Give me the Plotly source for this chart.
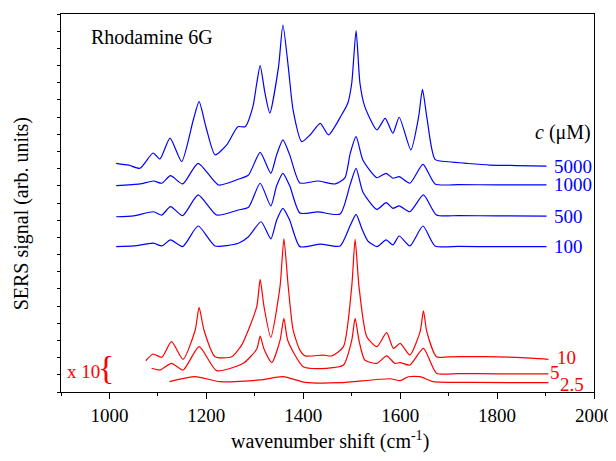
import plotly.graph_objects as go

# ---- data (wavenumber in cm^-1, signal in arbitrary offset units) ----
wn_5000 = [1014, 1040, 1063, 1090, 1104, 1125, 1149, 1173, 1185, 1199, 1218, 1242, 1265, 1280, 1296, 1304, 1311, 1321, 1331,
           1349, 1358, 1369, 1379, 1397, 1414, 1435, 1452, 1479, 1492, 1500, 1509, 1517, 1527, 1552, 1569, 1585, 1598,
           1622, 1638, 1646, 1655, 1672, 1700, 1740, 1785, 1840, 1902]
sig_5000 = [13.31, 13.20, 13.02, 13.91, 13.56, 14.78, 13.41, 15.83, 16.90, 15.44, 13.80, 14.38, 15.44, 15.44, 16.61, 17.97, 18.99, 17.39, 16.24,
            18.94, 21.36, 18.94, 16.41, 14.57, 14.96, 15.64, 14.96, 16.12, 16.82, 17.97, 21.03, 17.97, 16.61, 15.25, 15.93, 15.06, 15.99,
            14.09, 16.00, 17.62, 16.00, 13.54, 13.40, 13.30, 13.21, 13.18, 13.15]

wn_1000 = [1014, 1063, 1091, 1108, 1126, 1151, 1183, 1225, 1266, 1287, 1311, 1333, 1345, 1358, 1372, 1393, 1430, 1466, 1486,
           1497, 1509, 1523, 1552, 1571, 1585, 1598, 1620, 1647, 1672, 1720, 1800, 1902]
sig_1000 = [12.01, 12.11, 12.28, 12.15, 12.59, 12.11, 13.31, 12.05, 12.38, 12.63, 13.95, 12.73, 13.80, 14.67, 13.80, 12.17, 12.28, 12.11, 12.46,
            13.90, 14.86, 13.50, 12.47, 12.73, 12.44, 12.53, 12.15, 13.25, 12.11, 12.07, 12.06, 12.05]

wn_500 = [1014, 1050, 1091, 1108, 1126, 1151, 1183, 1221, 1266, 1287, 1311, 1333, 1345, 1358, 1372, 1393, 1430, 1476,
          1497, 1509, 1523, 1552, 1571, 1585, 1598, 1620, 1648, 1675, 1720, 1800, 1902]
sig_500 = [10.20, 10.25, 10.49, 10.30, 10.79, 10.26, 11.47, 10.30, 10.59, 10.75, 12.15, 10.83, 12.00, 12.73, 12.00, 10.42, 10.48, 10.36,
           12.10, 13.02, 11.64, 10.63, 11.02, 10.69, 10.83, 10.49, 11.47, 10.30, 10.27, 10.25, 10.24]

wn_100 = [1014, 1050, 1091, 1108, 1126, 1151, 1183, 1218, 1266, 1287, 1313, 1333, 1345, 1358, 1372, 1393, 1435, 1476,
          1497, 1509, 1521, 1533, 1552, 1571, 1585, 1598, 1620, 1647, 1672, 1720, 1800, 1902]
sig_100 = [8.46, 8.50, 8.66, 8.50, 8.85, 8.46, 9.66, 8.50, 8.66, 9.04, 9.91, 8.91, 10.00, 10.69, 10.00, 8.46, 8.61, 8.50,
           9.70, 10.34, 9.50, 8.80, 8.46, 8.85, 8.56, 9.08, 8.50, 9.66, 8.50, 8.47, 8.46, 8.46]

wn_10 = [1075, 1090, 1108, 1128, 1152, 1177, 1185, 1195, 1218, 1252, 1273, 1304, 1311, 1319, 1333, 1352, 1360, 1369, 1379, 1393,
         1404, 1441, 1459, 1483, 1500, 1507, 1515, 1531, 1552, 1572, 1586, 1600, 1620, 1641, 1648, 1655, 1675, 1700, 1750, 1800, 1850, 1906]
sig_10 = [1.82, 2.21, 2.02, 2.93, 1.90, 3.61, 4.93, 3.61, 2.05, 2.05, 2.74, 4.97, 6.56, 4.97, 3.18, 6.13, 8.91, 6.13, 3.61, 2.44,
          2.10, 2.15, 2.10, 2.64, 6.13, 8.89, 6.13, 3.22, 2.64, 3.45, 2.54, 2.83, 2.15, 3.50, 4.73, 3.50, 2.05, 2.05, 2.06, 2.05, 2.00, 1.90]

wn_5 = [1087, 1104, 1128, 1152, 1185, 1221, 1276, 1304, 1311, 1319, 1335, 1352, 1360, 1368, 1400, 1448, 1483, 1500, 1507, 1515,
        1527, 1552, 1572, 1589, 1600, 1620, 1648, 1675, 1720, 1800, 1906]
sig_5 = [1.38, 1.28, 1.67, 1.28, 2.64, 1.24, 1.67, 2.50, 3.26, 2.50, 1.71, 3.00, 4.29, 3.00, 1.47, 1.38, 1.57, 3.00, 4.29, 3.00,
         1.86, 1.67, 2.10, 1.67, 1.71, 1.57, 2.54, 1.09, 1.07, 1.06, 1.05]

wn_2p5 = [1124, 1177, 1228, 1311, 1358, 1404, 1476, 1579, 1600, 1617, 1641, 1669, 1750, 1906]
sig_2p5 = [0.60, 0.89, 0.60, 0.70, 0.89, 0.56, 0.54, 0.77, 0.66, 0.89, 0.89, 0.60, 0.56, 0.54]

blue_labels = ["5000", "1000", "500", "100"]
red_labels = ["10", "5", "2.5"]

BLUE = "#0000FF"
RED = "#FF0000"
FONT = "Liberation Serif, Times New Roman, serif"

fig = go.Figure()
series = [
    (wn_5000, sig_5000, BLUE), (wn_1000, sig_1000, BLUE), (wn_500, sig_500, BLUE), (wn_100, sig_100, BLUE),
    (wn_10, sig_10, RED), (wn_5, sig_5, RED), (wn_2p5, sig_2p5, RED),
]
for xs, ys, col in series:
    fig.add_trace(go.Scatter(x=xs, y=ys, mode="lines",
                             line=dict(color=col, width=1.2, shape="spline", smoothing=0.6),
                             showlegend=False, hoverinfo="skip"))

annotations = []
blue_y = [sig_5000[-1], sig_1000[-1], sig_500[-1], sig_100[-1]]
for lab, yv in zip(blue_labels, blue_y):
    annotations.append(dict(x=1914, y=yv, text=lab, showarrow=False, xanchor="left", yanchor="middle",
                            font=dict(family=FONT, size=19, color=BLUE)))
annotations.append(dict(x=1944, y=2.02, text=red_labels[0], showarrow=False, xanchor="center", yanchor="middle",
                        font=dict(family=FONT, size=19, color=RED)))
annotations.append(dict(x=1920, y=1.15, text=red_labels[1], showarrow=False, xanchor="center", yanchor="middle",
                        font=dict(family=FONT, size=19, color=RED)))
annotations.append(dict(x=1954, y=0.45, text=red_labels[2], showarrow=False, xanchor="center", yanchor="middle",
                        font=dict(family=FONT, size=19, color=RED)))
annotations.append(dict(x=1937, y=15.08, text="<i>c</i> (\u03bcM)", showarrow=False, xanchor="center", yanchor="middle",
                        font=dict(family=FONT, size=20, color="black")))
annotations.append(dict(x=958, y=20.68, text="Rhodamine 6G", showarrow=False, xanchor="left", yanchor="middle",
                        font=dict(family=FONT, size=20, color="black")))
annotations.append(dict(x=946, y=1.2, text="x 10", showarrow=False, xanchor="center", yanchor="middle",
                        font=dict(family=FONT, size=19, color=RED)))
annotations.append(dict(x=993, y=1.4, text="{", showarrow=False, xanchor="center", yanchor="middle",
                        font=dict(family=FONT, size=34, color=RED)))
# axis titles
annotations.append(dict(x=0.505, y=-0.127, xref="paper", yref="paper", text="wavenumber shift (cm<sup>-1</sup>)",
                        showarrow=False, xanchor="center", yanchor="middle",
                        font=dict(family=FONT, size=20, color="black")))
annotations.append(dict(x=-0.075, y=0.47, xref="paper", yref="paper", text="SERS signal (arb. units)",
                        showarrow=False, xanchor="center", yanchor="middle", textangle=-90,
                        font=dict(family=FONT, size=20, color="black")))

# The page body has an 8px default margin, so the figure origin is shifted by 8px;
# margins are reduced accordingly to place the plot area as in the reference.
fig.update_layout(
    width=608, height=445,
    margin=dict(l=53, r=22, t=6, b=61, autoexpand=False),
    paper_bgcolor="white", plot_bgcolor="white",
    font=dict(family=FONT, size=19, color="black"),
    annotations=annotations,
    xaxis=dict(range=[900, 2000], tickmode="linear", tick0=1000, dtick=200,
               ticks="outside", ticklen=6, tickwidth=1, tickcolor="black",
               minor=dict(tickmode="linear", tick0=900, dtick=100, ticks="outside", ticklen=3, tickcolor="black"),
               showline=True, linecolor="black", linewidth=1, mirror=True, showgrid=False, zeroline=False,
               tickfont=dict(family=FONT, size=19), automargin=False, ticklabeloverflow="allow"),
    yaxis=dict(range=[0, 22], tickmode="linear", tick0=0, dtick=1, showticklabels=False,
               ticks="outside", ticklen=3, tickwidth=1, tickcolor="black",
               showline=True, linecolor="black", linewidth=1, mirror=True, showgrid=False, zeroline=False,
               automargin=False),
)

fig.write_html("out.html")
